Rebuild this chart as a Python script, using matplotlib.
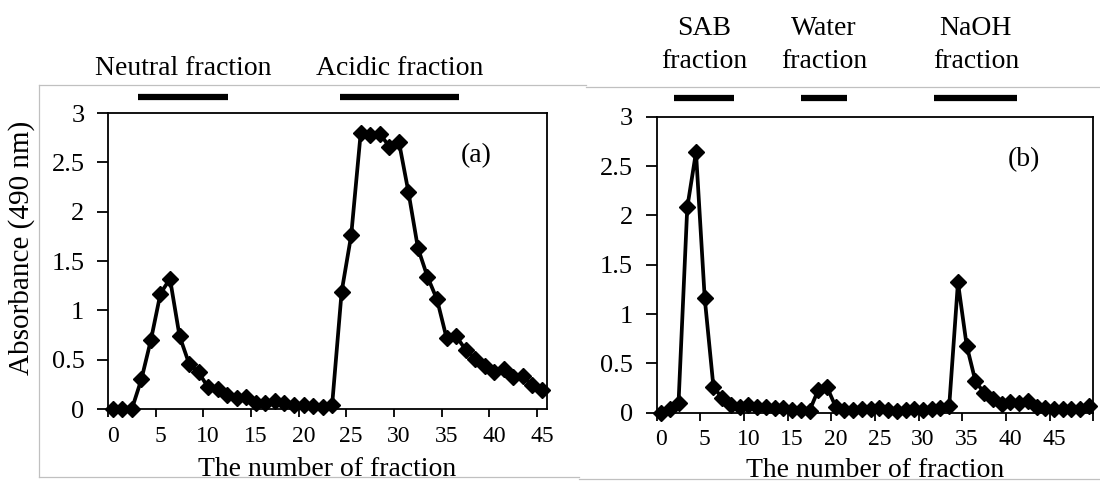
import matplotlib.pyplot as plt
import numpy as np
from matplotlib.lines import Line2D
from matplotlib.transforms import blended_transform_factory

plt.rcParams['font.family'] = ['Liberation Serif', 'DejaVu Serif']

# absorbance at 490 nm for each collected fraction
absorb_a = [0.00, 0.00, 0.00, 0.30, 0.70, 1.17, 1.32, 0.74, 0.46, 0.37,
            0.22, 0.20, 0.14, 0.11, 0.12, 0.06, 0.06, 0.08, 0.06, 0.04,
            0.04, 0.03, 0.02, 0.04, 1.19, 1.76, 2.80, 2.78, 2.79, 2.66,
            2.71, 2.20, 1.63, 1.34, 1.11, 0.72, 0.74, 0.60, 0.51, 0.44,
            0.38, 0.41, 0.32, 0.33, 0.24, 0.19]
absorb_b = [0.00, 0.04, 0.10, 2.08, 2.64, 1.16, 0.26, 0.15, 0.08, 0.06,
            0.08, 0.06, 0.06, 0.05, 0.05, 0.03, 0.03, 0.02, 0.23, 0.26,
            0.06, 0.03, 0.03, 0.04, 0.04, 0.05, 0.03, 0.02, 0.03, 0.04,
            0.03, 0.04, 0.05, 0.07, 1.32, 0.68, 0.32, 0.20, 0.14, 0.09,
            0.11, 0.10, 0.12, 0.06, 0.05, 0.04, 0.04, 0.04, 0.04, 0.07]
frac_a = np.arange(len(absorb_a))
frac_b = np.arange(len(absorb_b))

x_labels = [0, 5, 10, 15, 20, 25, 30, 35, 40, 45]
y_ticks = [0, 0.5, 1, 1.5, 2, 2.5, 3]
y_labels = ['0', '0.5', '1', '1.5', '2', '2.5', '3']

# elution ranges (fraction numbers) marked above each panel
bands_a = [("Neutral fraction", 2.65, 12.1), ("Acidic fraction", 23.8, 36.3)]
bands_b = [("SAB\nfraction", 1.5, 8.35), ("Water\nfraction", 16.0, 21.3),
           ("NaOH\nfraction", 31.3, 40.8)]

W, H = 1100, 486
fig = plt.figure(figsize=(11, 4.86), dpi=100)


def px(x0, y0, x1, y1):
    # pixel box -> figure fraction [left, bottom, width, height]
    return [x0 / W, 1 - y1 / H, (x1 - x0) / W, (y1 - y0) / H]


ax_a = fig.add_axes(px(108, 113, 546.7, 409))
ax_b = fig.add_axes(px(656.7, 116.7, 1093.3, 412.7))


def draw_panel(ax, x, y, bands, bar_y, text_y, tag, xlabel_y):
    ax.plot(x, y, color='black', lw=2.7, marker='D', ms=8,
            mfc='black', mec='black', clip_on=False, zorder=3)
    n = len(x)
    ax.set_xlim(-0.5, n - 0.5)
    ax.set_ylim(0, 3)
    ax.set_yticks(y_ticks)
    ax.set_yticklabels(y_labels, fontsize=19)
    ax.set_xticks(np.arange(-0.5, n, 5))
    ax.set_xticklabels([])
    ax.set_xticks(x_labels, minor=True)
    ax.set_xticklabels([str(v) for v in x_labels], minor=True, fontsize=17)
    ax.tick_params(axis='x', which='major', direction='out', length=6, width=1.3)
    ax.tick_params(axis='x', which='minor', length=0, pad=12)
    ax.tick_params(axis='y', direction='out', length=8, width=1.3, pad=9)
    for s in ax.spines.values():
        s.set_linewidth(1.3)
        s.set_color('black')

    tr = blended_transform_factory(ax.transData, ax.transAxes)
    for label, x0, x1 in bands:
        ax.plot([x0, x1], [bar_y, bar_y], color='black', lw=4.5,
                solid_capstyle='butt', transform=tr, clip_on=False)
        ax.text((x0 + x1) / 2, text_y, label, transform=tr, ha='center',
                va='center', fontsize=20, linespacing=1.42)

    ax.text(0.84, 0.855, tag, transform=ax.transAxes, ha='center',
            va='center', fontsize=20)
    ax.text(0.5, xlabel_y, "The number of fraction", transform=ax.transAxes,
            ha='center', va='center', fontsize=20)


draw_panel(ax_a, frac_a, absorb_a, bands_a, 1.054, 1.152, "(a)", -0.206)
draw_panel(ax_b, frac_b, absorb_b, bands_b, 1.064, 1.242, "(b)", -0.194)

fig.text(22 / W, 1 - 248 / H, "Absorbance (490 nm)", rotation=90,
         ha='center', va='center', fontsize=21)

# light grey chart-area borders
grey = '#c0c0c0'
frame_lines = [
    ((39, 85), (39, 477)),
    ((39, 85), (586, 85)),
    ((39, 477), (579, 477)),
    ((586, 87), (1100, 87)),
    ((579, 479), (1100, 479)),
]
for (x0, y0), (x1, y1) in frame_lines:
    fig.add_artist(Line2D([x0 / W, x1 / W], [1 - y0 / H, 1 - y1 / H],
                          transform=fig.transFigure, color=grey, lw=0.9))

fig.savefig('out.png', dpi=100)
